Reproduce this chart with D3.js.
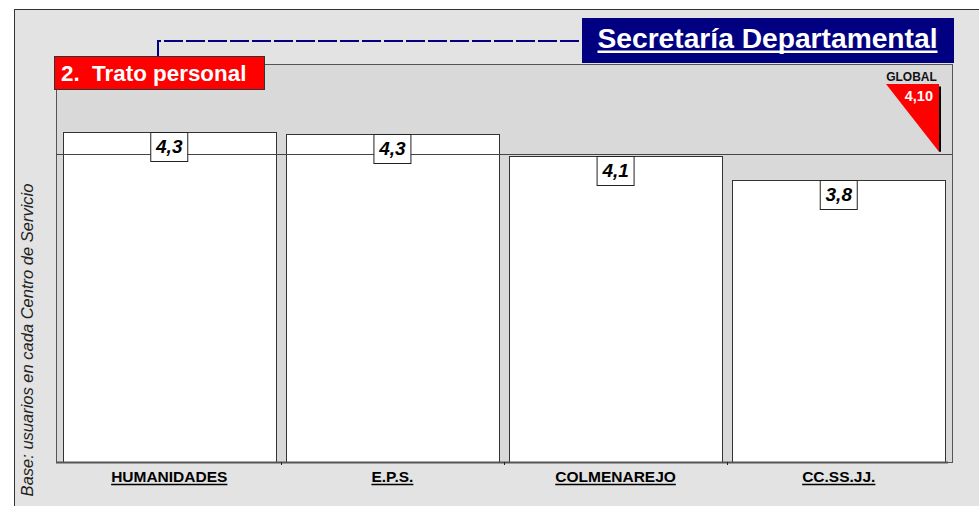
<!DOCTYPE html>
<html>
<head>
<meta charset="utf-8">
<script src="https://cdn.jsdelivr.net/npm/d3@7"></script>
<style>
  html, body { margin: 0; padding: 0; background: #ffffff; }
  svg { display: block; font-family: "Liberation Sans", Arial, sans-serif; }
</style>
</head>
<body>
<svg id="chart" width="979" height="506"></svg>
<script>
// ---- data ----
const categories = ["HUMANIDADES", "E.P.S.", "COLMENAREJO", "CC.SS.JJ."];
const values = [4.32, 4.30, 4.08, 3.84];
const globalValue = 4.10;
const globalLabel = "GLOBAL";
const titleText = "Secretaría Departamental";
const sectionText = "2.  Trato personal";
const axisLabel = "Base: usuarios en cada Centro de Servicio";
const yDomain = [1, 5];

const fmt1 = v => d3.format(".1f")(v).replace(".", ",");
const fmt2 = v => d3.format(".2f")(v).replace(".", ",");

const svg = d3.select("#chart");

// outer panel
svg.append("rect")
  .attr("x", 14.5).attr("y", 9.5).attr("width", 1000).attr("height", 600)
  .attr("fill", "#e3e3e3").attr("stroke", "#333").attr("stroke-width", 1);

const plot = { left: 56, right: 952, top: 64, bottom: 463 };

const x = d3.scaleBand().domain(categories)
  .range([plot.left, plot.right]).paddingInner(0.045).paddingOuter(0.03);
const y = d3.scaleLinear().domain(yDomain).range([plot.bottom, plot.top]);

// plot area
svg.append("rect")
  .attr("x", plot.left + 0.5).attr("y", plot.top + 0.5)
  .attr("width", plot.right - plot.left).attr("height", plot.bottom - plot.top - 1)
  .attr("fill", "#d9d9d9").attr("stroke", "#555").attr("stroke-width", 1);

// connector (dashed navy)
svg.append("path")
  .attr("d", "M158,57 V41 H582")
  .attr("fill", "none").attr("stroke", "#000080").attr("stroke-width", 2)
  .attr("stroke-dasharray", "19,3");

// bars
svg.append("g").selectAll("rect").data(values).join("rect")
  .attr("x", (d, i) => Math.round(x(categories[i])) + 0.5)
  .attr("y", d => Math.round(y(d)) + 0.5)
  .attr("width", Math.round(x.bandwidth()))
  .attr("height", d => plot.bottom - Math.round(y(d)) - 1)
  .attr("fill", "#ffffff").attr("stroke", "#333").attr("stroke-width", 1);

// floor line
svg.append("line")
  .attr("x1", plot.left).attr("x2", plot.right - 4)
  .attr("y1", plot.bottom - 0.5).attr("y2", plot.bottom - 0.5)
  .attr("stroke", "#555").attr("stroke-width", 2);

// small ticks at band boundaries
const bounds = categories.slice(1).map(c => x(c) - x.step() * x.paddingInner() / 2);
svg.append("g").selectAll("line").data(bounds).join("line")
  .attr("x1", d => Math.round(d) + 0.5).attr("x2", d => Math.round(d) + 0.5)
  .attr("y1", plot.bottom - 1).attr("y2", plot.bottom + 2)
  .attr("stroke", "#222");

// global reference line
svg.append("line")
  .attr("x1", plot.left).attr("x2", plot.right)
  .attr("y1", Math.round(y(globalValue)) + 0.5).attr("y2", Math.round(y(globalValue)) + 0.5)
  .attr("stroke", "#444").attr("stroke-width", 1);

// value label boxes
const lbl = svg.append("g").selectAll("g").data(values).join("g")
  .attr("transform", (d, i) => `translate(${x(categories[i]) + x.bandwidth() / 2},${Math.round(y(d))})`);
lbl.append("rect")
  .attr("x", -18.5).attr("y", 0.5).attr("width", 37).attr("height", 29)
  .attr("fill", "#fff").attr("stroke", "#222").attr("stroke-width", 1);
lbl.append("text")
  .attr("x", 0).attr("y", 21)
  .attr("text-anchor", "middle")
  .attr("font-size", 19).attr("font-weight", "bold").attr("font-style", "italic")
  .attr("fill", "#000")
  .text(d => fmt1(d));

// category labels (underlined)
const cat = svg.append("g").selectAll("g").data(categories).join("g")
  .attr("transform", d => `translate(${x(d) + x.bandwidth() / 2},482)`);
cat.append("text")
  .attr("text-anchor", "middle")
  .attr("font-size", 15.5).attr("font-weight", "bold").attr("fill", "#000")
  .text(d => d);
cat.each(function () {
  const g = d3.select(this);
  const w = g.select("text").node().getComputedTextLength();
  g.append("line").attr("x1", -w / 2).attr("x2", w / 2)
    .attr("y1", 2.5).attr("y2", 2.5).attr("stroke", "#000").attr("stroke-width", 1.3);
});

// axis title (rotated)
svg.append("text")
  .attr("transform", "translate(33,340) rotate(-90)")
  .attr("text-anchor", "middle")
  .attr("font-size", 16.5).attr("font-style", "italic").attr("fill", "#222")
  .text(axisLabel);

// section box
svg.append("rect")
  .attr("x", 54.5).attr("y", 56.5).attr("width", 210).attr("height", 33)
  .attr("fill", "#ff0000").attr("stroke", "#333").attr("stroke-width", 1);
svg.append("text")
  .attr("x", 61).attr("y", 81)
  .attr("font-size", 22.4).attr("font-weight", "bold").attr("fill", "#fff")
  .attr("xml:space", "preserve").style("white-space", "pre")
  .text(sectionText);

// title box
svg.append("rect")
  .attr("x", 582).attr("y", 18).attr("width", 372).attr("height", 45)
  .attr("fill", "#000080");
const title = svg.append("text")
  .attr("x", 767.5).attr("y", 48)
  .attr("text-anchor", "middle")
  .attr("font-size", 28.2).attr("font-weight", "bold").attr("fill", "#fff")
  .text(titleText);
const tw = title.node().getComputedTextLength();
svg.append("rect")
  .attr("x", 767.5 - tw / 2).attr("y", 50.5).attr("width", tw).attr("height", 2.5)
  .attr("fill", "#fff");

// GLOBAL marker
const gy = y(globalValue) - 2;
svg.append("rect")
  .attr("x", 939).attr("y", 86.5).attr("width", 2).attr("height", gy - 86.5)
  .attr("fill", "#000");
svg.append("path")
  .attr("d", `M886,84 L939,84 L939,${gy} Z`)
  .attr("fill", "#ff0000");
svg.append("text")
  .attr("x", 911.5).attr("y", 81)
  .attr("text-anchor", "middle")
  .attr("font-size", 12).attr("font-weight", "bold").attr("fill", "#111")
  .text(globalLabel);
svg.append("text")
  .attr("x", 933).attr("y", 101)
  .attr("text-anchor", "end")
  .attr("font-size", 14.5).attr("font-weight", "bold").attr("fill", "#fff")
  .text(fmt2(globalValue));
</script>
</body>
</html>
